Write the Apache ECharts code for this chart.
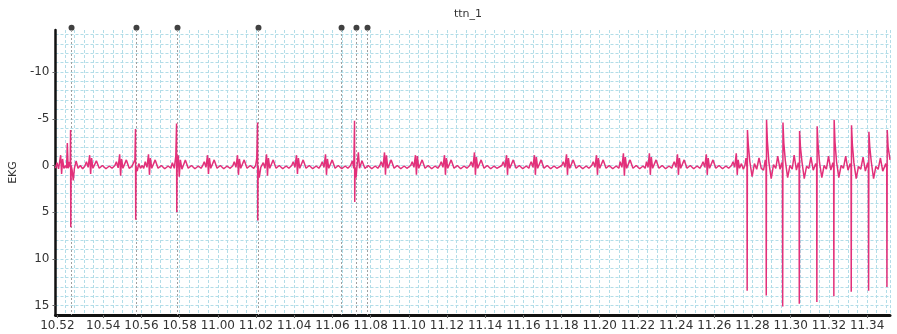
<!DOCTYPE html>
<html>
<head>
<meta charset="utf-8">
<script src="https://cdn.jsdelivr.net/npm/echarts@6/dist/echarts.min.js"></script>
<style>
  html, body { margin: 0; padding: 0; background: #fff; }
  #chart { width: 897px; height: 334px; }
</style>
</head>
<body>
<div id="chart"></div>
<script>
// 标题 / 轴名
const chartTitle = "ttn_1";
const yName = "EKG";

// 轴范围 (秒, 10.52 = 10*60+52)
const xMin = 651.5;
const xMax = 695.2;
const yMin = -14.5;
const yMax = 16;

// 刻度
const xTickSeconds = [651.6, 654, 656, 658, 660, 662, 664, 666, 668, 670, 672,
  674, 676, 678, 680, 682, 684, 686, 688, 690, 692, 694];
const yTickValues = [-10, -5, 0, 5, 10, 15];

// 顶部标记点
const markerSeconds = [652.34, 655.74, 657.89, 662.13, 666.48, 667.26, 667.84];
const markerLevel = -14.75;

// EKG 数据 [秒, 值]
const ekgPoints = [
  [651.50,0.3],[651.58,-0.3],[651.66,0.35],[651.77,-1.1],[651.82,0.9],[651.87,-0.7],[651.94,0.3],[652.02,0.0],
  [652.08,0.3],[652.12,-2.4],[652.16,0.3],[652.22,-0.4],[652.27,0.2],[652.29,-3.8],[652.30,6.6],[652.32,0.0],
  [652.37,0.5],[652.43,1.6],[652.49,0.3],[652.58,-0.5],[652.68,0.3],[652.80,0.0],[652.92,0.35],
  [653.04,0.05],[653.12,-0.4],[653.21,0.2],[653.29,-1.1],[653.34,0.9],[653.39,-0.8],[653.46,0.3],[653.64,-0.5],
  [653.79,0.3],[653.96,0.0],[654.14,0.35],[654.32,0.05],[654.46,0.3],
  [654.61,0.0],[654.69,-0.4],[654.78,0.25],[654.86,-1.2],[654.91,1.1],[654.96,-0.7],[655.03,0.3],[655.21,-0.6],[655.36,0.3],
  [655.50,0.1],[655.60,0.3],[655.66,-0.6],[655.69,-3.9],[655.70,5.8],[655.72,0.1],[655.78,0.6],[655.86,-0.2],[655.95,0.3],[656.04,0.0],
  [656.12,0.3],[656.20,-0.4],[656.29,0.2],[656.37,-1.2],[656.42,1.0],[656.47,-0.8],[656.54,0.3],[656.72,-0.6],
  [656.87,0.3],[657.04,0.0],[657.22,0.35],[657.40,0.05],[657.54,0.3],
  [657.62,-0.3],[657.72,0.3],[657.80,-1.0],[657.84,-4.5],[657.85,5.0],[657.87,0.2],[657.93,-1.1],[657.98,1.2],
  [658.04,-0.6],[658.12,0.4],[658.30,-0.6],[658.45,0.3],[658.62,0.0],[658.80,0.35],[658.98,0.05],[659.12,0.3],
  [659.21,0.0],[659.29,-0.4],[659.38,0.2],[659.46,-1.1],[659.51,0.9],[659.56,-0.8],[659.63,0.3],[659.81,-0.6],
  [659.96,0.3],[660.13,0.0],[660.31,0.35],[660.49,0.05],[660.63,0.3],
  [660.78,0.05],[660.86,-0.4],[660.95,0.2],[661.03,-1.1],[661.08,1.0],[661.13,-0.7],[661.20,0.3],[661.38,-0.6],
  [661.53,0.3],[661.70,0.0],[661.88,0.3],
  [661.98,0.0],[662.04,-0.8],[662.08,-4.6],[662.09,5.9],[662.11,0.0],[662.17,1.3],[662.25,0.2],[662.32,0.4],
  [662.38,-0.3],[662.47,0.3],[662.55,-1.2],[662.60,1.1],[662.65,-0.8],[662.72,0.3],[662.90,-0.6],[663.05,0.3],
  [663.22,0.0],[663.40,0.35],[663.58,0.05],[663.72,0.3],
  [663.87,0.0],[663.95,-0.4],[664.04,0.2],[664.12,-1.1],[664.17,0.9],[664.22,-0.8],[664.29,0.3],[664.47,-0.6],
  [664.62,0.3],[664.79,0.0],[664.97,0.35],[665.15,0.05],[665.29,0.3],
  [665.39,0.0],[665.47,-0.4],[665.56,0.2],[665.64,-1.2],[665.69,1.0],[665.74,-0.7],[665.81,0.3],[665.99,-0.6],
  [666.14,0.3],[666.31,0.0],[666.49,0.35],[666.67,0.05],[666.81,0.3],
  [666.95,0.0],[667.05,-0.5],[667.12,0.3],[667.16,-4.8],[667.17,3.9],[667.19,0.2],[667.24,1.3],[667.30,-0.2],
  [667.36,-1.4],[667.42,0.3],[667.55,-0.5],[667.70,0.3],[667.88,0.0],[668.06,0.35],[668.24,0.05],[668.38,0.3],
  [668.48,0.0],[668.56,-0.4],[668.65,0.2],[668.73,-1.4],[668.78,1.0],[668.83,-1.1],[668.90,0.3],[669.08,-0.6],
  [669.23,0.3],[669.40,0.0],[669.58,0.35],[669.76,0.05],[669.90,0.3],
  [670.10,0.0],[670.18,-0.4],[670.27,0.2],[670.35,-1.1],[670.40,1.0],[670.45,-1.0],[670.52,0.3],[670.70,-0.6],
  [670.85,0.3],[671.02,0.0],[671.20,0.35],[671.38,0.05],[671.52,0.3],
  [671.62,0.0],[671.70,-0.4],[671.79,0.2],[671.87,-1.1],[671.92,1.0],[671.97,-0.8],[672.04,0.3],[672.22,-0.6],
  [672.37,0.3],[672.54,0.0],[672.72,0.35],[672.90,0.05],[673.04,0.3],
  [673.19,0.0],[673.27,-0.4],[673.36,0.2],[673.44,-1.4],[673.49,1.0],[673.54,-0.9],[673.61,0.3],[673.79,-0.6],
  [673.94,0.3],[674.11,0.0],[674.29,0.35],[674.47,0.05],[674.61,0.3],
  [674.87,0.0],[674.95,-0.4],[675.04,0.2],[675.12,-1.1],[675.17,1.0],[675.22,-0.8],[675.29,0.3],[675.47,-0.6],
  [675.62,0.3],[675.79,0.0],[675.97,0.35],[676.15,0.05],[676.29,0.3],
  [676.33,0.0],[676.41,-0.4],[676.50,0.2],[676.58,-1.1],[676.63,1.0],[676.68,-0.9],[676.75,0.3],[676.93,-0.6],
  [677.08,0.3],[677.25,0.0],[677.43,0.35],[677.61,0.05],[677.75,0.3],
  [678.01,0.0],[678.09,-0.4],[678.18,0.2],[678.26,-1.2],[678.31,1.0],[678.36,-0.8],[678.43,0.3],[678.61,-0.6],
  [678.76,0.3],[678.93,0.0],[679.11,0.35],[679.29,0.05],[679.43,0.3],
  [679.58,0.0],[679.66,-0.4],[679.75,0.2],[679.83,-1.1],[679.88,1.0],[679.93,-0.8],[680.00,0.3],[680.18,-0.6],
  [680.33,0.3],[680.50,0.0],[680.68,0.35],[680.86,0.05],[681.00,0.3],
  [681.07,-0.4],[681.16,0.2],[681.24,-1.3],[681.29,1.1],[681.34,-0.9],[681.41,0.3],[681.59,-0.6],[681.74,0.3],
  [681.91,0.0],[682.09,0.35],[682.27,0.05],[682.38,0.3],
  [682.45,-0.4],[682.53,0.2],[682.60,-1.3],[682.65,1.0],[682.70,-0.9],[682.77,0.3],[682.95,-0.6],[683.10,0.3],
  [683.27,0.0],[683.45,0.35],[683.63,0.05],[683.77,0.3],
  [683.82,0.0],[683.90,-0.4],[683.99,0.2],[684.07,-1.2],[684.12,1.0],[684.17,-0.8],[684.24,0.3],[684.42,-0.6],
  [684.57,0.3],[684.74,0.0],[684.92,0.35],[685.10,0.05],[685.24,0.3],
  [685.33,0.0],[685.41,-0.4],[685.50,0.2],[685.58,-1.2],[685.63,1.0],[685.68,-0.8],[685.75,0.3],[685.93,-0.6],
  [686.08,0.3],[686.25,0.0],[686.43,0.35],[686.61,0.05],[686.75,0.3],
  [686.90,0.0],[686.98,-0.4],[687.07,0.2],[687.15,-1.3],[687.20,1.0],[687.25,-0.6],[687.32,0.3],[687.42,-0.2],
  [687.52,0.4],[687.60,0.0],
  [687.66,-0.8],[687.71,0.2],[687.72,13.4],[687.735,-3.8],[687.78,-2.2],[687.86,-0.4],[687.98,1.2],[688.10,-0.2],
  [688.22,0.4],[688.34,-0.8],[688.46,0.3],[688.58,0.5],[688.67,-0.6],
  [688.71,0.3],[688.72,13.9],[688.735,-4.9],[688.78,-2.6],[688.86,-0.3],[688.98,1.4],[689.10,-0.1],[689.22,0.3],
  [689.32,-1.0],[689.44,0.4],[689.53,-0.3],
  [689.57,0.2],[689.58,15.1],[689.595,-4.6],[689.64,-2.4],[689.72,-0.5],[689.84,1.3],[689.96,0.0],[690.08,0.4],
  [690.18,-1.1],[690.30,0.5],[690.40,-0.3],
  [690.44,0.3],[690.45,14.8],[690.465,-3.7],[690.51,-2.0],[690.59,-0.4],[690.71,1.4],[690.83,0.1],[690.95,0.3],
  [691.06,-0.9],[691.18,0.5],[691.31,-0.2],
  [691.36,0.2],[691.37,14.6],[691.385,-4.2],[691.43,-2.3],[691.51,-0.3],[691.63,1.3],[691.75,0.0],[691.87,0.4],
  [691.98,-1.0],[692.10,0.5],[692.21,-0.3],
  [692.25,0.3],[692.26,14.0],[692.275,-4.9],[692.32,-2.5],[692.40,-0.4],[692.52,1.3],[692.64,0.0],[692.76,0.3],
  [692.88,-1.0],[693.00,0.5],[693.12,-0.2],
  [693.16,0.2],[693.17,13.5],[693.185,-4.3],[693.23,-2.2],[693.31,-0.3],[693.43,1.4],[693.55,0.1],[693.67,0.4],
  [693.79,-0.9],[693.91,0.6],[694.03,-0.3],
  [694.07,0.3],[694.08,13.4],[694.095,-3.6],[694.14,-2.0],[694.22,-0.4],[694.34,1.4],[694.46,0.1],[694.58,0.4],
  [694.70,-0.8],[694.82,0.6],[694.98,-0.2],
  [695.03,0.3],[695.04,13.0],[695.055,-3.8],[695.10,-2.0],[695.20,-0.6]
];

// 网格线 (每 1 个单位)
const gridRows = [];
for (let v = -14; v <= 15; v++) gridRows.push(v);

const fontFamily = "DejaVu Sans";

function fmtTime(v) {
  const s = Math.round(v);
  const m = Math.floor(s / 60);
  const ss = s % 60;
  return m + "." + (ss < 10 ? "0" + ss : ss);
}

const myChart = echarts.init(document.getElementById("chart"));

const gridLine = {
  show: true,
  lineStyle: { color: "#b2dde8", width: 1, type: [3, 2] },
};

const option = {
  animation: false,
  backgroundColor: "#fff",
  title: {
    text: chartTitle,
    left: 463,
    top: 4,
    textAlign: "center",
    textStyle: { color: "#333", fontSize: 11, fontWeight: "normal", fontFamily: fontFamily },
  },
  grid: { left: 55, right: 7, top: 30, bottom: 19, containLabel: false },
  xAxis: [
    {
      type: "value",
      min: xMin,
      max: xMax,
      axisLine: { show: true, onZero: false, lineStyle: { color: "#111", width: 3 } },
      axisTick: { show: true, length: 3, customValues: xTickSeconds, lineStyle: { color: "#666" } },
      axisLabel: {
        customValues: xTickSeconds,
        formatter: fmtTime,
        color: "#333",
        fontSize: 12,
        fontFamily: fontFamily,
        margin: 5,
      },
      splitLine: { show: false },
    },
    {
      // 竖向网格 (0.5 秒)
      type: "value",
      position: "bottom",
      min: xMin,
      max: xMax,
      interval: 0.5,
      axisLine: { show: false },
      axisTick: { show: false },
      axisLabel: { show: false },
      splitLine: gridLine,
    },
  ],
  yAxis: [
    {
      type: "value",
      inverse: true,
      min: yMin,
      max: yMax,
      name: yName,
      nameLocation: "middle",
      nameGap: 33,
      nameTextStyle: { color: "#333", fontSize: 11, fontFamily: fontFamily },
      axisLine: { show: true, onZero: false, lineStyle: { color: "#111", width: 2.5 } },
      axisTick: { show: true, length: 3, customValues: yTickValues, lineStyle: { color: "#666" } },
      axisLabel: {
        customValues: yTickValues,
        color: "#333",
        fontSize: 12,
        fontFamily: fontFamily,
        margin: 6,
      },
      splitLine: { show: false },
    },
    {
      // 横向网格 (1 个单位)
      type: "value",
      inverse: true,
      min: yMin,
      max: yMax,
      axisLine: { show: false },
      axisTick: { show: false, customValues: gridRows },
      axisLabel: { show: false },
      splitLine: gridLine,
    },
  ],
  series: [
    {
      name: yName,
      type: "line",
      xAxisIndex: 0,
      yAxisIndex: 0,
      data: ekgPoints,
      showSymbol: false,
      symbol: "none",
      lineStyle: { color: "#e2307a", width: 1.5 },
      z: 5,
    },
    {
      type: "scatter",
      xAxisIndex: 0,
      yAxisIndex: 0,
      clip: false,
      symbolSize: 6,
      itemStyle: { color: "#111" },
      data: markerSeconds.map((t) => [t, markerLevel]),
      markLine: {
        silent: true,
        symbol: "none",
        label: { show: false },
        lineStyle: { color: "#a0a0a0", width: 1, type: [2, 2] },
        data: markerSeconds.map((t) => ({ xAxis: t })),
      },
      z: 4,
    },
  ],
};

option && myChart.setOption(option);
</script>
</body>
</html>
